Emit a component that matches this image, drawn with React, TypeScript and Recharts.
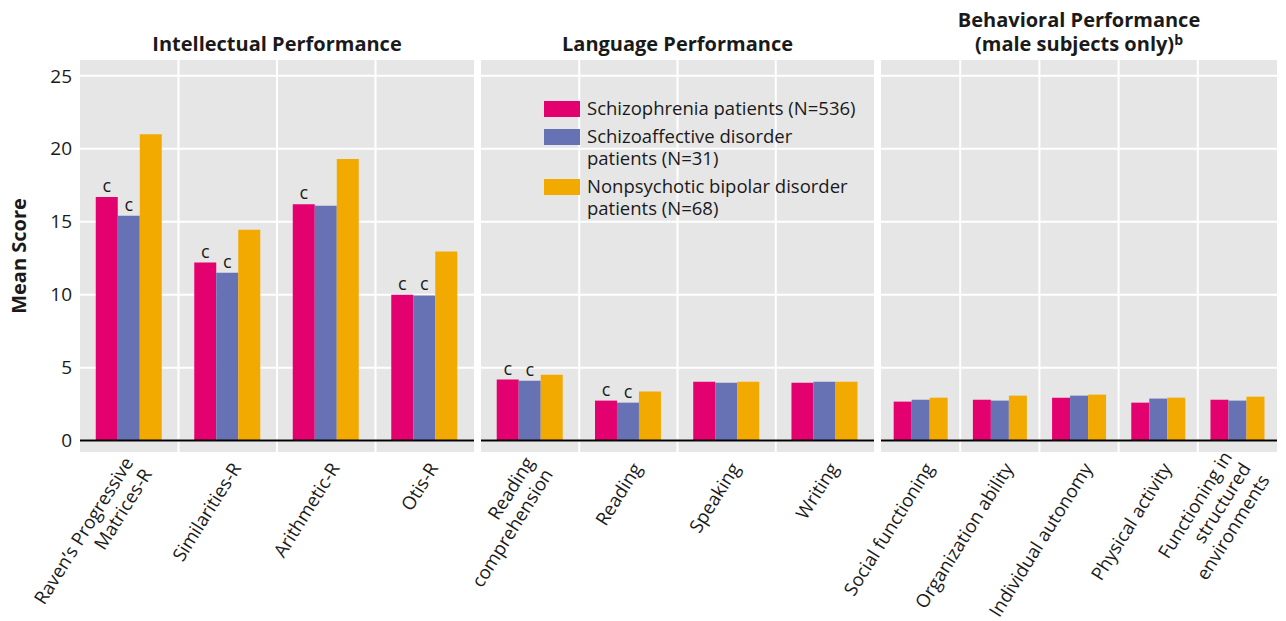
import React from 'react';
import {
  BarChart,
  Bar,
  XAxis,
  YAxis,
  CartesianGrid,
  ReferenceLine,
  LabelList
} from 'recharts';

// Series (same order in every panel)
const SERIES = [
  { key: 'schizo', name: 'Schizophrenia patients (N=536)', color: '#E3006F' },
  { key: 'affective', name: 'Schizoaffective disorder\npatients (N=31)', color: '#6672B4' },
  { key: 'bipolar', name: 'Nonpsychotic bipolar disorder\npatients (N=68)', color: '#F2A900' }
];

const Y_TICKS = [0, 5, 10, 15, 20, 25];

// Intellectual performance
const intellectCats = ['Raven’s Progressive\nMatrices-R', 'Similarities-R', 'Arithmetic-R', 'Otis-R'];
const intellectSchizo = [16.7, 12.2, 16.2, 10.0];
const intellectAffective = [15.4, 11.5, 16.1, 9.95];
const intellectBipolar = [21.0, 14.45, 19.3, 12.95];
const intellectSchizoMark = ['c', 'c', 'c', 'c'];
const intellectAffectiveMark = ['c', 'c', '', 'c'];

// Language performance
const languageCats = ['Reading\ncomprehension', 'Reading', 'Speaking', 'Writing'];
const languageSchizo = [4.18, 2.74, 4.04, 3.97];
const languageAffective = [4.1, 2.6, 3.97, 4.04];
const languageBipolar = [4.52, 3.36, 4.04, 4.04];
const languageSchizoMark = ['c', 'c', '', ''];
const languageAffectiveMark = ['c', 'c', '', ''];

// Behavioral performance (male subjects only)
const behaviorCats = [
  'Social functioning',
  'Organization ability',
  'Individual autonomy',
  'Physical activity',
  'Functioning in\nstructured\nenvironments'
];
const behaviorSchizo = [2.67, 2.8, 2.94, 2.6, 2.8];
const behaviorAffective = [2.8, 2.74, 3.08, 2.88, 2.74];
const behaviorBipolar = [2.94, 3.08, 3.15, 2.94, 3.01];
const behaviorSchizoMark = ['', '', '', '', ''];
const behaviorAffectiveMark = ['', '', '', '', ''];

const build = (
  cats: string[],
  a: number[],
  b: number[],
  c: number[],
  ma: string[],
  mb: string[]
) =>
  cats.map((cat, i) => ({
    cat,
    schizo: a[i],
    affective: b[i],
    bipolar: c[i],
    markA: ma[i],
    markB: mb[i]
  }));

const FONT = '"Open Sans", "Noto Sans", sans-serif';
const INK = '#1a1a1a';

const AngledTick = (props: any) => {
  const { x, y, payload } = props;
  const lines = String(payload.value).split('\n');
  const lh = 22;
  return (
    <g transform={`translate(${x + 9},${y + 4}) rotate(-58)`}>
      <text textAnchor="end" fontSize={18.5} fill={INK} fontFamily={FONT}>
        {lines.map((l, i) => (
          <tspan key={i} x={0} dy={i === 0 ? -((lines.length - 1) / 2) * lh + 6 : lh}>
            {l}
          </tspan>
        ))}
      </text>
    </g>
  );
};

const boundaryLines = (n: number) => (p: any) => {
  const off = p.offset;
  const out: number[] = [];
  for (let i = 1; i < n; i++) out.push(off.left + (i * off.width) / n);
  return out;
};

interface PanelProps {
  data: any[];
  left: number;
  width: number;
  margin: { top: number; right: number; bottom: number; left: number };
  showY?: boolean;
}

const Panel: React.FC<PanelProps> = ({ data, left, width, margin, showY }) => (
  <div style={{ position: 'absolute', left, top: 0 }}>
    <BarChart
      width={width}
      height={621}
      data={data}
      margin={margin}
      barCategoryGap="16%"
      barGap={0}
    >
      <CartesianGrid
        fill="#e6e6e6"
        stroke="#ffffff"
        strokeWidth={2}
        verticalCoordinatesGenerator={boundaryLines(data.length)}
      />
      <XAxis
        dataKey="cat"
        interval={0}
        tickLine={false}
        axisLine={false}
        height={160}
        tick={<AngledTick />}
      />
      <YAxis
        hide={!showY}
        width={showY ? 80 : 0}
        domain={[-0.85, 26.15]}
        ticks={Y_TICKS}
        allowDataOverflow
        tickLine={false}
        axisLine={false}
        tick={{ fontSize: 19, fill: INK, fontFamily: FONT }}
        label={
          showY
            ? {
                value: 'Mean Score',
                angle: -90,
                position: 'insideLeft',
                dx: 14,
                style: { fontSize: 20, fontWeight: 700, fill: INK, fontFamily: FONT, textAnchor: 'middle' }
              }
            : undefined
        }
      />
      <ReferenceLine y={0} stroke="#000" strokeWidth={2} />
      {SERIES.map((s) => (
        <Bar key={s.key} dataKey={s.key} fill={s.color} isAnimationActive={false}>
          {s.key !== 'bipolar' && (
            <LabelList
              dataKey={s.key === 'schizo' ? 'markA' : 'markB'}
              position="top"
              offset={5}
              style={{ fontSize: 18, fill: INK, fontFamily: FONT }}
            />
          )}
        </Bar>
      ))}
    </BarChart>
  </div>
);

const titleStyle: React.CSSProperties = {
  position: 'absolute',
  textAlign: 'center',
  fontFamily: FONT,
  fontWeight: 700,
  fontSize: 20,
  color: INK,
  lineHeight: '24px'
};

const Legend: React.FC = () => (
  <div style={{ position: 'absolute', left: 544, top: 97, fontFamily: FONT, fontSize: 18.5, color: INK }}>
    {SERIES.map((s) => (
      <div key={s.key} style={{ display: 'flex', alignItems: 'flex-start', marginBottom: 6 }}>
        <div style={{ width: 36, height: 16, background: s.color, marginTop: 4, marginRight: 7 }} />
        <div style={{ lineHeight: '22px', whiteSpace: 'pre' }}>{s.name}</div>
      </div>
    ))}
  </div>
);

const App: React.FC = () => {
  const intellect = build(
    intellectCats,
    intellectSchizo,
    intellectAffective,
    intellectBipolar,
    intellectSchizoMark,
    intellectAffectiveMark
  );
  const language = build(
    languageCats,
    languageSchizo,
    languageAffective,
    languageBipolar,
    languageSchizoMark,
    languageAffectiveMark
  );
  const behavior = build(
    behaviorCats,
    behaviorSchizo,
    behaviorAffective,
    behaviorBipolar,
    behaviorSchizoMark,
    behaviorAffectiveMark
  );

  return (
    <div style={{ position: 'absolute', left: 0, top: 0, width: 1286, height: 621, background: '#fff' }}>
      <Panel data={intellect} left={0} width={480} margin={{ top: 59, right: 6, bottom: 8, left: 0 }} showY />
      <Panel data={language} left={401} width={479} margin={{ top: 59, right: 6, bottom: 8, left: 80 }} />
      <Panel data={behavior} left={801} width={485} margin={{ top: 59, right: 9, bottom: 8, left: 80 }} />

      <div style={{ ...titleStyle, left: 80, width: 394, top: 32 }}>Intellectual Performance</div>
      <div style={{ ...titleStyle, left: 481, width: 393, top: 32 }}>Language Performance</div>
      <div style={{ ...titleStyle, left: 881, width: 396, top: 8 }}>Behavioral Performance</div>
      <div style={{ ...titleStyle, left: 881, width: 396, top: 32 }}>
        (male subjects only)
        <span style={{ fontSize: 14, lineHeight: '14px', position: 'relative', top: -6 }}>b</span>
      </div>

      <Legend />
    </div>
  );
};

export default App;
